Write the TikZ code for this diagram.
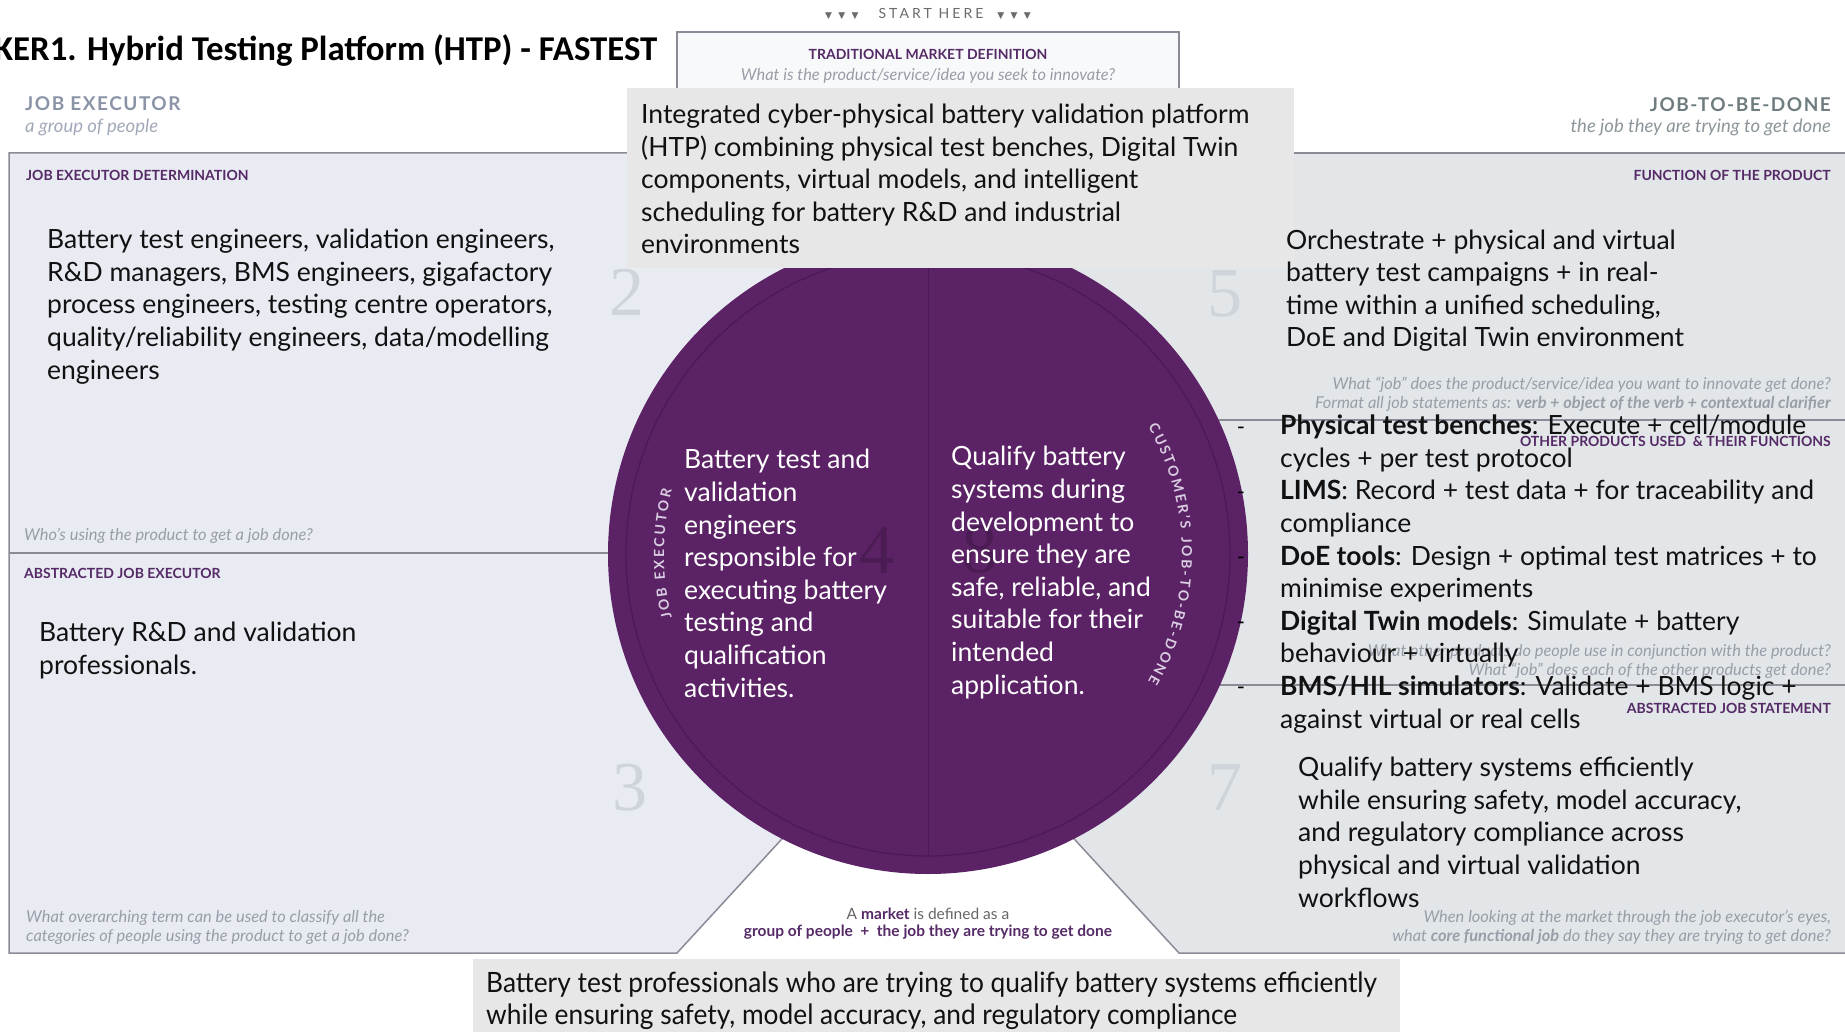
\documentclass[tikz,border=0pt]{standalone}
\usepackage{fontspec}
\setmainfont{Lato}
\newfontfamily\titlefont{Carlito}
\newfontfamily\narrowfont[FakeStretch=0.94]{Lato}
\newfontfamily\digitfont{Liberation Serif}
\newfontfamily\symfont{DejaVu Sans}
\usepackage{tikz}
\usetikzlibrary{positioning,decorations.text}
\definecolor{panelL}{HTML}{E9EBF3}
\definecolor{panelR}{HTML}{E2E6E9}
\definecolor{frame}{HTML}{8A8B96}
\definecolor{note}{HTML}{E7E7E7}
\definecolor{disc}{HTML}{5C2266}
\definecolor{discdk}{HTML}{4B1955}
\definecolor{prim}{HTML}{552A66}
\definecolor{slate}{HTML}{8B94A7}
\definecolor{sage}{HTML}{6F7C80}
\definecolor{mute}{HTML}{999DA7}
\definecolor{numgray}{HTML}{CFD4DB}
\definecolor{ringtxt}{HTML}{D9CDE1}
\definecolor{ink}{HTML}{111111}

\tikzset{
  body/.style={inner sep=0pt,anchor=base west,align=left,text=ink,font=\fontsize{26.5}{32.6}\selectfont},
  hint/.style={inner sep=0pt,text=mute,font=\fontsize{16.4}{19}\selectfont\itshape},
  tag/.style={inner sep=0pt,text=prim,font=\fontsize{14}{14}\selectfont\bfseries},
  bignum/.style={inner sep=0pt,text=numgray,font=\digitfont\fontsize{70}{70}\selectfont},
}

\begin{document}
\begin{tikzpicture}[x=1pt,y=-1pt]
  \useasboundingbox[fill=white] (0,0) rectangle (1845,1032);

  % canvas columns
  \fill[panelL] (9,153) -- (928,153) -- (928,680) -- (677,953) -- (9,953) -- cycle;
  \fill[panelR] (928,153) -- (1850,153) -- (1850,953) -- (1179,953) -- (928,680) -- cycle;
  \draw[frame,line width=1.5pt] (928,153) -- (9,153) -- (9,953) -- (677,953) -- (928,680) -- (1179,953) -- (1850,953);
  \draw[frame,line width=1.5pt] (928,153) -- (1850,153);
  \draw[frame,line width=1.2pt] (9,553) -- (928,553);
  \draw[frame,line width=1.2pt] (928,420) -- (1850,420) (928,685) -- (1850,685);

  \node[bignum] (n2) at (627,292) {2};
  \node[bignum] (n5) at (1225,294) {5};
  \node[bignum] (n3) at (630,788) {3};
  \node[bignum] (n7) at (1225,788) {7};

  \node[anchor=base west,inner sep=0pt,font=\titlefont\bfseries\fontsize{34.8}{34.8}\selectfont] (title) at (-6,61) {KER1. Hybrid Testing Platform (HTP) - FASTEST};
  \node[inner sep=0pt,text=black!58,font=\fontsize{14}{14}\selectfont] (start) at (928,14)
    {{\symfont\fontsize{9}{9}\selectfont\addfontfeature{LetterSpace=70}▼▼▼}\hspace{20pt}{\addfontfeature{LetterSpace=22}START HERE}\hspace{14pt}{\symfont\fontsize{9}{9}\selectfont\addfontfeature{LetterSpace=70}▼▼▼}};

  \filldraw[fill=white!70!panelL,draw=frame,line width=1.2pt] (677,32) rectangle (1179,210);
  \node[tag] (tmd) at (928,54) {TRADITIONAL MARKET DEFINITION};
  \node[hint] (tmdq) at (928,76) {What is the product/service/idea you seek to innovate?};

  \node[anchor=west,inner sep=0pt,text=slate,font=\fontsize{19}{19}\selectfont\bfseries\addfontfeature{LetterSpace=8}] (je) at (25,104) {JOB EXECUTOR};
  \node[anchor=west,inner sep=0pt,text=slate!80,font=\fontsize{18.5}{18.5}\selectfont\itshape] (jesub) at (25,127) {a group of people};
  \node[anchor=east,inner sep=0pt,text=sage,font=\fontsize{19}{19}\selectfont\bfseries\addfontfeature{LetterSpace=8}] (jtbd) at (1831,105) {JOB-TO-BE-DONE};
  \node[anchor=east,inner sep=0pt,text=sage!80,font=\fontsize{18.5}{18.5}\selectfont\itshape] (jtbdsub) at (1831,127) {the job they are trying to get done};

  \node[tag,anchor=west] (jed) at (26,175) {JOB EXECUTOR DETERMINATION};
  \node[tag,anchor=east] (fotp) at (1831,175) {FUNCTION OF THE PRODUCT};
  \node[tag,anchor=west] (aje) at (24,573) {ABSTRACTED JOB EXECUTOR};
  \node[tag,anchor=east] (opu) at (1831,441) {OTHER PRODUCTS USED \ \& THEIR FUNCTIONS};
  \node[tag,anchor=east] (ajs) at (1831,708) {ABSTRACTED JOB STATEMENT};

  \node[hint,anchor=west] (jeq) at (24,536) {Who's using the product to get a job done?};
  \node[hint,anchor=west,align=left] (ajeq) at (26,927)
    {What overarching term can be used to classify all the\\categories of people using the product to get a job done?};
  \node[hint,anchor=east,align=right] (fotpq) at (1831,394)
    {What “job” does the product/service/idea you want to innovate get done?\\Format all job statements as: {\bfseries verb + object of the verb + contextual clarifier}};
  \node[hint,anchor=east,align=right] (opuq) at (1831,661)
    {What other products do people use in conjunction with the product?\\What “job” does each of the other products get done?};
  \node[hint,anchor=east,align=right] (ajsq) at (1831,927)
    {When looking at the market through the job executor's eyes,\\what {\bfseries core functional job} do they say they are trying to get done?};

  % centre disc
  \node[circle,fill=disc,minimum size=640pt,inner sep=0pt] (disc) at (928,554) {};
  \draw[discdk,line width=1.2pt] (disc.center) circle[radius=302];
  \draw[discdk,line width=1pt] (disc.north) -- ++(0,622);
  \node[bignum,text=disc!82!black] (n4) at (877,550) {4};
  \node[bignum,text=disc!82!black] (n8) at (980,550) {8};
  \path[decorate,decoration={text along path,text align={fit to path},text color=ringtxt,
      text={|\fontsize{14}{14}\selectfont\bfseries|CUSTOMER'S JOB-TO-BE-DONE}}]
    (disc.center) ++(-30:254) arc[start angle=-30,end angle=30,radius=254];
  \path[decorate,decoration={text along path,text align={fit to path},text color=ringtxt,
      text={|\fontsize{14}{14}\selectfont\bfseries|JOB EXECUTOR}}]
    (disc.center) ++(166:264) arc[start angle=166,end angle=194,radius=264];

  \node[body,text=white] (who) at (684,697)
    {Battery test and\\validation\\engineers\\responsible for\\executing battery\\testing and\\qualification\\activities.};
  \node[body,text=white] (job) at (951,694)
    {Qualify battery\\systems during\\development to\\ensure they are\\safe, reliable, and\\suitable for their\\intended\\application.};

  \fill[note] (627,88) rectangle (1294,268);
  \node[body] (market) at (641,254)
    {Integrated cyber-physical battery validation platform\\(HTP) combining physical test benches, Digital Twin\\components, virtual models, and intelligent\\scheduling for battery R\&D and industrial\\environments};

  \node[body] (executors) at (47,379)
    {Battery test engineers, validation engineers,\\R\&D managers, BMS engineers, gigafactory\\process engineers, testing centre operators,\\quality/reliability engineers, data/modelling\\engineers};
  \node[body] (abstract) at (39,674) {Battery R\&D and validation\\professionals.};
  \node[body] (function) at (1286,347)
    {Orchestrate + physical and virtual\\battery test campaigns + in real-\\time within a unified scheduling,\\DoE and Digital Twin environment};

  \foreach \y [count=\i] in {434,499,564,629,694}
    \node[inner sep=0pt,anchor=base,font=\fontsize{22}{22}\selectfont] (dash\i) at (1241,\y) {-};
  \node[body] (others) at (1280,728)
    {\textbf{Physical test benches}: Execute + cell/module\\cycles + per test protocol\\
     \textbf{LIMS}: Record + test data + for traceability and\\compliance\\
     \textbf{DoE tools}: Design + optimal test matrices + to\\minimise experiments\\
     \textbf{Digital Twin models}: Simulate + battery\\behaviour + virtually\\
     \textbf{BMS/HIL simulators}: Validate + BMS logic +\\against virtual or real cells};
  \node[body] (statement) at (1298,907)
    {Qualify battery systems efficiently\\while ensuring safety, model accuracy,\\and regulatory compliance across\\physical and virtual validation\\workflows};

  \node[inner sep=0pt,text=black!60,font=\fontsize{15.5}{15.5}\selectfont] (mdef) at (928,914)
    {A {\color{prim}\bfseries market} is defined as a};
  \node[tag,font=\fontsize{15.5}{15.5}\selectfont\bfseries] (mdef2) at (928,932)
    {group of people\ \ +\ \ the job they are trying to get done};

  \fill[note] (473,959) rectangle (1400,1040);
  \node[body,font=\narrowfont\fontsize{28}{32}\selectfont] (summary) at (486,1024)
    {Battery test professionals who are trying to qualify battery systems efficiently\\while ensuring safety, model accuracy, and regulatory compliance};
\end{tikzpicture}
\end{document}
